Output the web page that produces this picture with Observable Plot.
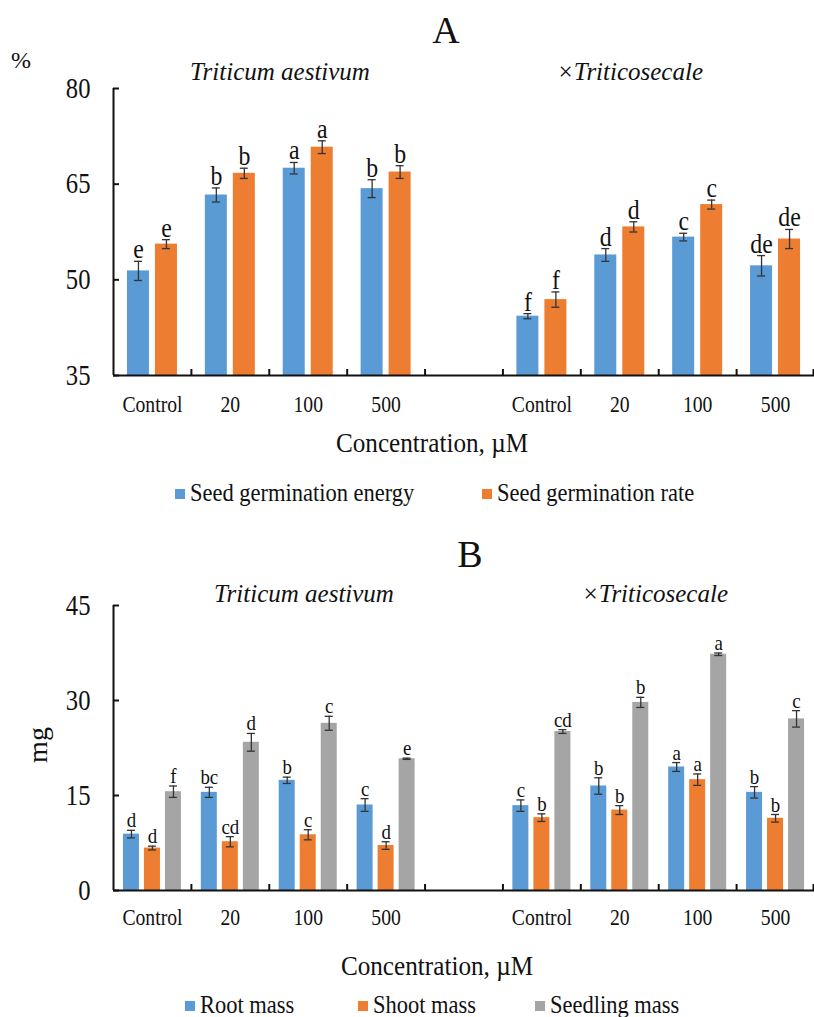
<!DOCTYPE html>
<html><head><meta charset="utf-8">
<script src="https://cdn.jsdelivr.net/npm/d3@7"></script>
<script src="https://cdn.jsdelivr.net/npm/@observablehq/plot@0.6"></script>
<style>
body{margin:0;background:#fff;}
#wrap{position:relative;width:814px;height:1017px;overflow:hidden;background:#fff;}
#wrap > svg{position:absolute;left:0;}
</style></head><body><div id="wrap"></div>
<script>
// ---------- data ----------
const concentrations = ["Control", "20", "100", "500"];
const speciesNames = ["Triticum aestivum", "×Triticosecale"];
const slots = ["Ta|Control", "Ta|20", "Ta|100", "Ta|500", "gap", "Tc|Control", "Tc|20", "Tc|100", "Tc|500"];

// Panel A (%)
const germEnergy = [51.4, 63.3, 67.5, 64.3, 44.3, 53.9, 56.7, 52.2];
const germEnergyErr = [1.5, 1.1, 0.9, 1.4, 0.4, 1.0, 0.6, 1.6];
const germEnergyLetters = ["e", "b", "a", "b", "f", "d", "c", "de"];
const germRate = [55.6, 66.7, 70.8, 66.9, 46.9, 58.3, 61.8, 56.4];
const germRateErr = [0.7, 0.8, 1.0, 1.0, 1.2, 0.8, 0.7, 1.5];
const germRateLetters = ["e", "b", "a", "b", "f", "d", "c", "de"];
const yTicksA = [35, 50, 65, 80];

// Panel B (mg)
const rootMass = [8.9, 15.5, 17.4, 13.5, 13.4, 16.5, 19.5, 15.5];
const rootErr = [0.6, 0.8, 0.5, 1.0, 0.9, 1.3, 0.7, 0.9];
const rootLetters = ["d", "bc", "b", "c", "c", "b", "a", "b"];
const shootMass = [6.7, 7.7, 8.8, 7.1, 11.5, 12.7, 17.5, 11.4];
const shootErr = [0.3, 0.8, 0.8, 0.6, 0.6, 0.7, 0.9, 0.6];
const shootLetters = ["d", "cd", "c", "d", "b", "b", "a", "b"];
const seedlingMass = [15.6, 23.4, 26.4, 20.8, 25.1, 29.7, 37.3, 27.1];
const seedlingErr = [0.9, 1.4, 1.1, 0.1, 0.3, 0.8, 0.2, 1.3];
const seedlingLetters = ["f", "d", "c", "e", "cd", "b", "a", "c"];
const yTicksB = [0, 15, 30, 45];

const BLUE = "#5B9BD5", ORANGE = "#ED7D31", GRAY = "#A5A5A5";
const FONT = "'Liberation Serif','Times New Roman',serif";

// ---------- layout ----------
const W = 814, ML = 113, MR = 0;
const bw = (W - ML - MR) / slots.length;
const dataSlots = slots.filter(s => s !== "gap");

// horizontally condense a text element about its anchor x
function squeeze(el, sx) {
  const x = +(el.getAttribute("x") || 0);
  const t = el.getAttribute("transform") || "";
  el.setAttribute("transform", `${t} translate(${x},0) scale(${sx},1) translate(${-x},0)`);
}

function makePanel({series, yDomain, yTicks, height, marginTop, marginBottom, barW, barGap, letterSize, letterSx, tickPad}) {
  const n = series.length;
  const groupW = n * barW + (n - 1) * barGap;
  const side = (bw - groupW) / 2;
  const plotH = height - marginTop - marginBottom;
  const unit = (yDomain[1] - yDomain[0]) / plotH;
  const marks = [];
  series.forEach((s, k) => {
    const rows = dataSlots.map((slot, i) => ({slot, v: s.values[i], e: s.err[i], lab: s.letters[i]}));
    const left = side + k * (barW + barGap);
    const right = bw - left - barW;
    const cx = left + barW / 2 - bw / 2;
    marks.push(Plot.barY(rows, {x: "slot", y1: yDomain[0], y2: "v", fill: s.color, insetLeft: left, insetRight: right}));
    marks.push(Plot.ruleX(rows, {x: "slot", y1: d => d.v - d.e, y2: d => d.v + d.e, dx: cx, stroke: "#333", strokeWidth: 1.3}));
    for (const sign of [1, -1]) {
      marks.push(Plot.tickY(rows, {x: "slot", y: d => d.v + sign * d.e, insetLeft: left + barW / 2 - 4, insetRight: right + barW / 2 - 4, stroke: "#333", strokeWidth: 1.3}));
    }
    marks.push(Plot.text(rows, {x: "slot", y: d => d.v + d.e, text: "lab", dx: cx, dy: -3, lineAnchor: "bottom", fontSize: letterSize, fill: "#111"}));
  });
  marks.push(Plot.ruleY([yDomain[0]], {stroke: "#111", strokeWidth: 2}));
  marks.push(Plot.ruleX([slots[0]], {dx: -bw / 2, y1: yDomain[0], y2: yDomain[1], stroke: "#111", strokeWidth: 2}));
  marks.push(Plot.tickY(yTicks, {y: d => d, x: () => slots[0], insetRight: bw - 6, stroke: "#111", strokeWidth: 2}));
  marks.push(Plot.ruleX(slots.slice(1), {x: d => d, dx: -bw / 2, y1: yDomain[0], y2: yDomain[0] + 6 * unit, stroke: "#111", strokeWidth: 2}));
  marks.push(Plot.ruleX([slots[slots.length - 1]], {dx: bw / 2 - 1, y1: yDomain[0], y2: yDomain[0] + 6 * unit, stroke: "#111", strokeWidth: 2}));
  marks.push(Plot.axisY({ticks: yTicks, tickSize: 0, tickPadding: 23, fontSize: 29, label: null, tickFormat: d => d}));
  marks.push(Plot.axisX({tickSize: 0, tickPadding: tickPad, fontSize: 24, label: null, tickFormat: s => s === "gap" ? "" : s.split("|")[1]}));
  const svg = Plot.plot({
    width: W, height, marginTop, marginBottom, marginLeft: ML, marginRight: MR,
    style: {fontFamily: FONT, background: "transparent", color: "#111", overflow: "visible"},
    x: {domain: slots, padding: 0, round: false},
    y: {domain: yDomain},
    marks
  });
  svg.querySelectorAll('g[aria-label="x-axis tick label"] text').forEach(el => squeeze(el, 0.82));
  svg.querySelectorAll('g[aria-label="y-axis tick label"] text').forEach(el => squeeze(el, 0.85));
  svg.querySelectorAll('g[aria-label="text"] text').forEach(el => squeeze(el, letterSx));
  return svg;
}

const wrap = document.getElementById("wrap");

const panelA = makePanel({
  series: [
    {values: germEnergy, err: germEnergyErr, letters: germEnergyLetters, color: BLUE},
    {values: germRate, err: germRateErr, letters: germRateLetters, color: ORANGE}
  ],
  yDomain: [35, 80], yTicks: yTicksA, height: 420, marginTop: 88, marginBottom: 45,
  barW: 22, barGap: 6, letterSize: 28, letterSx: 0.85, tickPad: 19
});
panelA.style.top = "0px";
wrap.appendChild(panelA);

const panelB = makePanel({
  series: [
    {values: rootMass, err: rootErr, letters: rootLetters, color: BLUE},
    {values: shootMass, err: shootErr, letters: shootLetters, color: ORANGE},
    {values: seedlingMass, err: seedlingErr, letters: seedlingLetters, color: GRAY}
  ],
  yDomain: [0, 45], yTicks: yTicksB, height: 420, marginTop: 85, marginBottom: 50,
  barW: 16, barGap: 5, letterSize: 21, letterSx: 0.9, tickPad: 17
});
panelB.style.top = "520px";
wrap.appendChild(panelB);

// ---------- overlay text (titles, labels, legends) ----------
const ov = d3.select(wrap).append("svg")
  .attr("width", W).attr("height", 1017)
  .style("top", "0px").style("pointer-events", "none")
  .style("font-family", FONT);

function txt(t, x, y, size, opts = {}) {
  const el = ov.append("text").attr("x", x).attr("y", y).attr("font-size", size)
    .attr("text-anchor", opts.anchor || "middle").attr("fill", "#111").text(t);
  if (opts.italic) el.attr("font-style", "italic");
  if (opts.rotate) el.attr("transform", `rotate(-90 ${x} ${y})`);
  if (opts.sx) squeeze(el.node(), opts.sx);
  return el;
}

// Panel A
txt("A", 446, 43, 38);
txt("%", 21, 68, 24);
txt(speciesNames[0], 280, 80, 25, {italic: true});
txt(speciesNames[1], 630, 80, 25, {italic: true});
txt("Concentration, µM", 432, 452, 28, {sx: 0.9});
const legendA = [
  {name: "Seed germination energy", color: BLUE, x: 175},
  {name: "Seed germination rate", color: ORANGE, x: 482}
];
legendA.forEach(l => {
  ov.append("rect").attr("x", l.x).attr("y", 489).attr("width", 10).attr("height", 10).attr("fill", l.color);
  txt(l.name, l.x + 15, 501, 25, {anchor: "start", sx: 0.9});
});

// Panel B
txt("B", 470, 567, 38);
txt("mg", 47, 745, 28, {rotate: true});
txt(speciesNames[0], 304, 602, 25, {italic: true});
txt(speciesNames[1], 655, 602, 25, {italic: true});
txt("Concentration, µM", 437, 975, 28, {sx: 0.9});
const legendB = [
  {name: "Root mass", color: BLUE, x: 185},
  {name: "Shoot mass", color: ORANGE, x: 358},
  {name: "Seedling mass", color: GRAY, x: 535}
];
legendB.forEach(l => {
  ov.append("rect").attr("x", l.x).attr("y", 1001).attr("width", 10).attr("height", 10).attr("fill", l.color);
  txt(l.name, l.x + 15, 1013, 25, {anchor: "start", sx: 0.9});
});
</script>
</body></html>
